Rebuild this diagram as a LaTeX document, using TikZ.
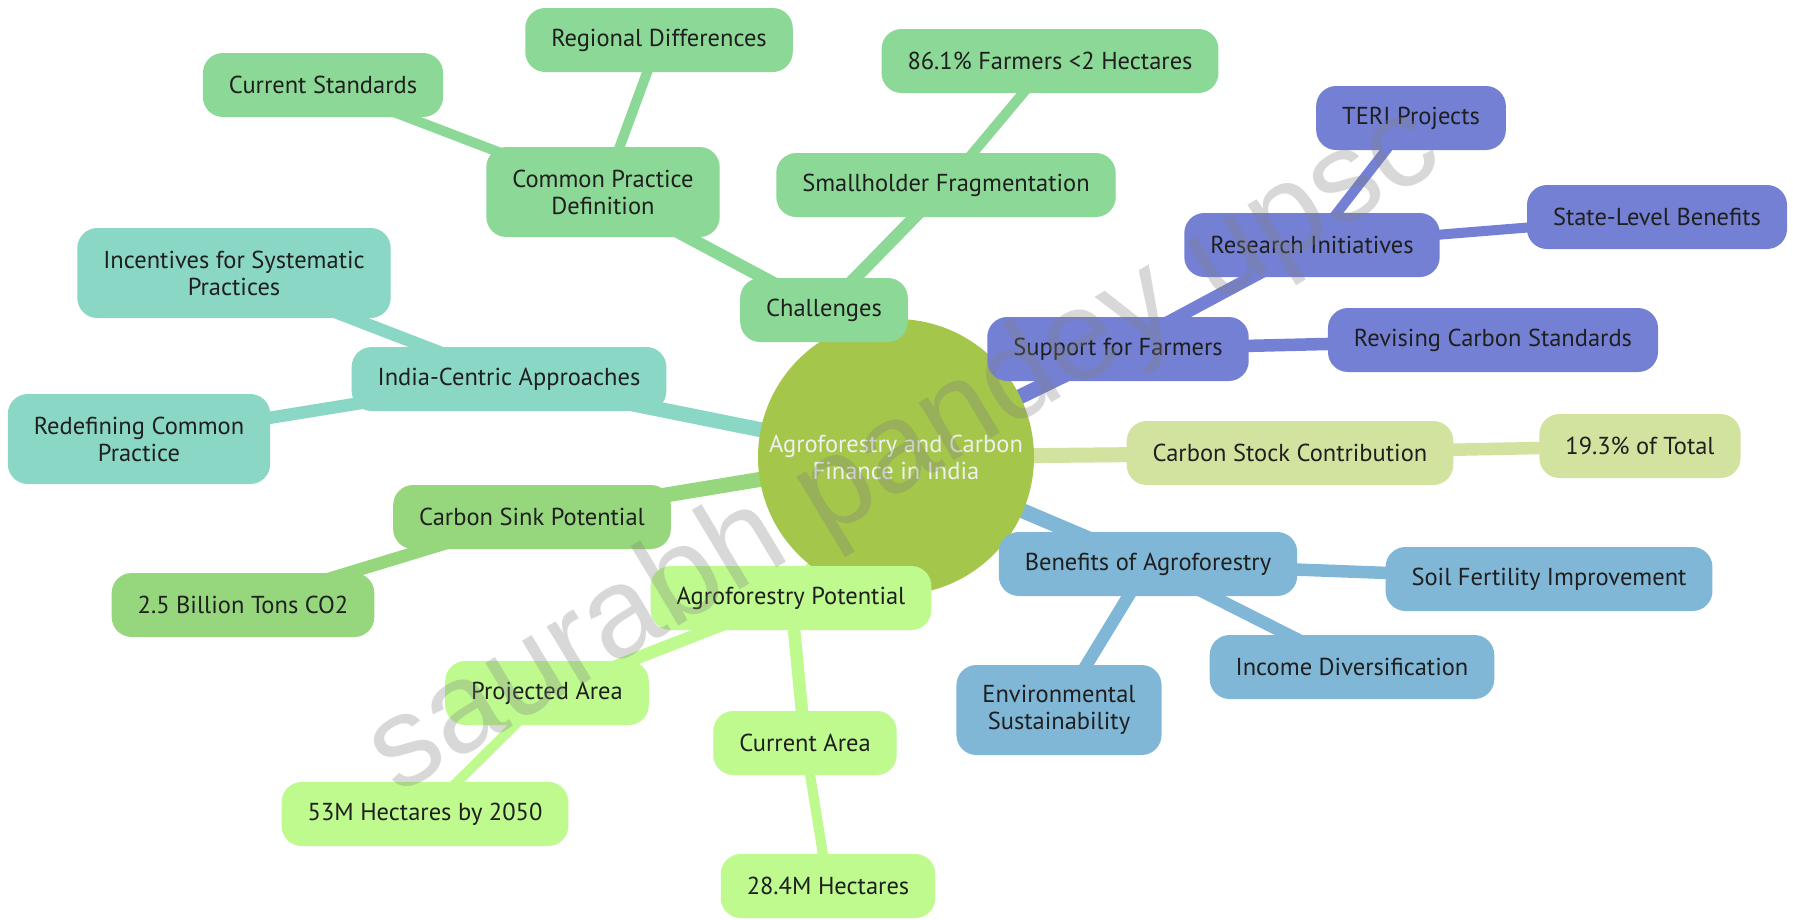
\documentclass[tikz,border=0pt]{standalone}
\usepackage{fontspec}
\setmainfont{PT Sans}
\newfontfamily\wmfont{Liberation Sans}
\usepackage{xcolor}
\usetikzlibrary{backgrounds}
\definecolor{rootc}{RGB}{164,198,75}
\definecolor{chal}{RGB}{140,216,150}
\definecolor{india}{RGB}{138,215,197}
\definecolor{sink}{RGB}{150,215,125}
\definecolor{agro}{RGB}{190,250,142}
\definecolor{supp}{RGB}{116,128,212}
\definecolor{stock}{RGB}{210,227,160}
\definecolor{bene}{RGB}{128,183,214}

\begin{document}
\begin{tikzpicture}[x=1pt, y=-1pt,
  every node/.style={font=\fontsize{24.5}{27}\selectfont, text=black!88},
  box/.style={rounded corners=20pt, minimum height=64pt, inner xsep=26pt, inner ysep=0pt, align=center},
  two/.style={box, minimum height=90pt},
  l1/.style={line width=15pt},
  l2/.style={line width=12.5pt},
  l3/.style={line width=10pt}]

\useasboundingbox (0,0) rectangle (1793,919);

\node (root)[circle, fill=rootc, minimum size=276pt, inner sep=0pt, align=center, text=white!94!black] at (896,457) {Agroforestry and Carbon\\Finance in India};

% challenges
\node (ch)[box, fill=chal] at (824,310) {Challenges};
\node (cpd)[two, fill=chal] at (603,192) {Common Practice\\Definition};
\node (cs)[box, fill=chal] at (323,85) {Current Standards};
\node (rd)[box, fill=chal] at (659,40) {Regional Differences};
\node (sf)[box, fill=chal] at (946,185) {Smallholder Fragmentation};
\node (f86)[box, fill=chal] at (1050,61) {86.1\% Farmers <2 Hectares};

% india-centric
\node (ica)[box, fill=india] at (509,379) {India-Centric Approaches};
\node (inc)[two, fill=india] at (234,273) {Incentives for Systematic\\Practices};
\node (rcp)[two, fill=india] at (139,439) {Redefining Common\\Practice};

% carbon sink
\node (csp)[box, fill=sink] at (532,517) {Carbon Sink Potential};
\node (bt)[box, fill=sink] at (243,605) {2.5 Billion Tons CO2};

% agroforestry potential
\node (ap)[box, fill=agro] at (791,598) {Agroforestry Potential};
\node (pa)[box, fill=agro] at (547,693) {Projected Area};
\node (m53)[box, fill=agro] at (425,814) {53M Hectares by 2050};
\node (ca)[box, fill=agro] at (805,743) {Current Area};
\node (m28)[box, fill=agro] at (828,886) {28.4M Hectares};

% support
\node (sff)[box, fill=supp] at (1118,349) {Support for Farmers};
\node (ri)[box, fill=supp] at (1312,245) {Research Initiatives};
\node (teri)[box, fill=supp] at (1411,118) {TERI Projects};
\node (slb)[box, fill=supp] at (1657,217) {State-Level Benefits};
\node (rcs)[box, fill=supp] at (1493,340) {Revising Carbon Standards};

% carbon stock
\node (csc)[box, fill=stock] at (1290,453) {Carbon Stock Contribution};
\node (tot)[box, fill=stock] at (1640,446) {19.3\% of Total};

% benefits
\node (boa)[box, fill=bene] at (1148,564) {Benefits of Agroforestry};
\node (sfi)[box, fill=bene] at (1549,579) {Soil Fertility Improvement};
\node (id)[box, fill=bene] at (1352,667) {Income Diversification};
\node (es)[two, fill=bene] at (1059,710) {Environmental\\Sustainability};

\begin{scope}[on background layer]
\fill[white] (0,0) rectangle (1793,919);
\draw[l1, chal] (root.center) -- (ch.center);
\draw[l2, chal] (ch.center) -- (cpd.center);
\draw[l3, chal] (cpd.center) -- (cs.center);
\draw[l3, chal] (cpd.center) -- (rd.center);
\draw[l2, chal] (ch.center) -- (sf.center);
\draw[l3, chal] (sf.center) -- (f86.center);

\draw[l1, india] (root.center) -- (ica.center);
\draw[l2, india] (ica.center) -- (inc.center);
\draw[l2, india] (ica.center) -- (rcp.center);

\draw[l1, sink] (root.center) -- (csp.center);
\draw[l2, sink] (csp.center) -- (bt.center);

\draw[l1, agro] (root.center) -- (ap.center);
\draw[l2, agro] (ap.center) -- (pa.center);
\draw[l3, agro] (pa.center) -- (m53.center);
\draw[l2, agro] (ap.center) -- (ca.center);
\draw[l3, agro] (ca.center) -- (m28.center);

\draw[l1, supp] (root.center) -- (sff.center);
\draw[l2, supp] (sff.center) -- (ri.center);
\draw[l3, supp] (ri.center) -- (teri.center);
\draw[l3, supp] (ri.center) -- (slb.center);
\draw[l2, supp] (sff.center) -- (rcs.center);

\draw[l1, stock] (root.center) -- (csc.center);
\draw[l2, stock] (csc.center) -- (tot.center);

\draw[l1, bene] (root.center) -- (boa.center);
\draw[l2, bene] (boa.center) -- (sfi.center);
\draw[l2, bene] (boa.center) -- (id.center);
\draw[l2, bene] (boa.center) -- (es.center);
\end{scope}

% watermark
\node (wm)[rotate=31, font=\wmfont\fontsize{128}{128}\selectfont, text=gray, text opacity=0.3] at (905,452) {saurabh pandey upsc};
\end{tikzpicture}
\end{document}
